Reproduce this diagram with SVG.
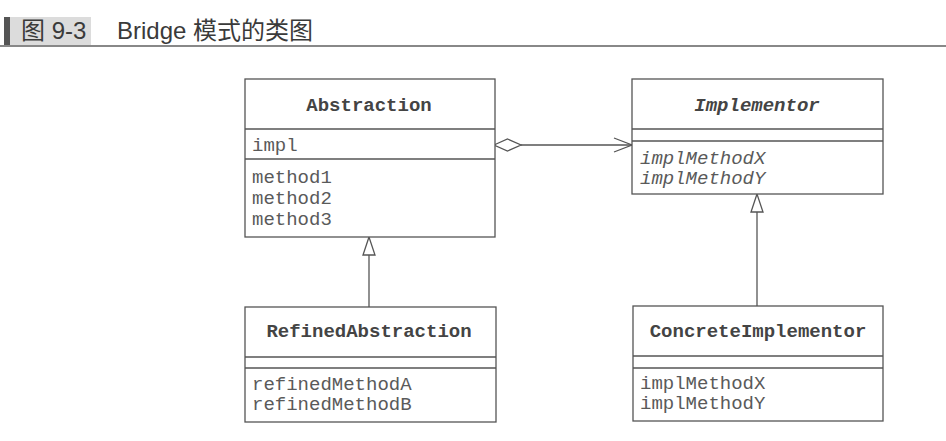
<svg xmlns="http://www.w3.org/2000/svg" width="946" height="441" viewBox="0 0 946 441">
<style>
.box{fill:#fff;stroke:#555;stroke-width:1.3}
.div{stroke:#555;stroke-width:1.3}
.name{font-family:"Liberation Mono","Courier New",monospace;font-weight:bold;font-size:19px;fill:#444;text-anchor:middle}
.mem{font-family:"Liberation Mono","Courier New",monospace;font-size:19px;fill:#5a5a5a}
.it{font-style:italic}
.conn{stroke:#555;stroke-width:1.3;fill:none}
.head{font-family:"Liberation Sans","Noto Sans CJK SC",sans-serif;font-size:24px;fill:#3a3a3a}
</style>
<rect width="946" height="441" fill="#fff"/>
<g id="header">
<rect x="4" y="17" width="6" height="29" fill="#555"/>
<rect x="10" y="17" width="81" height="29" fill="#dcdcdc"/>
<line x1="0" y1="46" x2="946" y2="46" stroke="#888" stroke-width="2"/>
<text class="head" x="21" y="39">图 9-3</text>
<text class="head" x="117" y="39">Bridge 模式的类图</text>
</g>
<g id="connectors">
<polygon class="conn" points="494,145 507.5,139 521,145 507.5,151" fill="#fff"/>
<line class="conn" x1="521" y1="145" x2="632" y2="145"/>
<polyline class="conn" points="614,138 632,145 614,152"/>
<polygon class="conn" points="369,237 363,255 375,255"/>
<line class="conn" x1="369" y1="255" x2="369" y2="307"/>
<polygon class="conn" points="757,194 751,212 763,212"/>
<line class="conn" x1="757" y1="212" x2="757" y2="306"/>
</g>
<g id="Abstraction">
<rect class="box" x="245" y="79" width="250" height="158"/>
<line class="div" x1="245" y1="129" x2="495" y2="129"/>
<line class="div" x1="245" y1="159" x2="495" y2="159"/>
<text class="name" x="369" y="111">Abstraction</text>
<text class="mem" x="252" y="151">impl</text>
<text class="mem" x="252" y="183">method1</text>
<text class="mem" x="252" y="204">method2</text>
<text class="mem" x="252" y="225">method3</text>
</g>
<g id="Implementor">
<rect class="box" x="632" y="79" width="251" height="115"/>
<line class="div" x1="632" y1="129" x2="883" y2="129"/>
<line class="div" x1="632" y1="141" x2="883" y2="141"/>
<text class="name it" x="757" y="111">Implementor</text>
<text class="mem it" x="640" y="164">implMethodX</text>
<text class="mem it" x="640" y="184">implMethodY</text>
</g>
<g id="RefinedAbstraction">
<rect class="box" x="245" y="307" width="251" height="115"/>
<line class="div" x1="245" y1="357" x2="496" y2="357"/>
<line class="div" x1="245" y1="368" x2="496" y2="368"/>
<text class="name" x="369" y="337">RefinedAbstraction</text>
<text class="mem" x="252" y="390">refinedMethodA</text>
<text class="mem" x="252" y="410">refinedMethodB</text>
</g>
<g id="ConcreteImplementor">
<rect class="box" x="633" y="306" width="250" height="115"/>
<line class="div" x1="633" y1="356" x2="883" y2="356"/>
<line class="div" x1="633" y1="368" x2="883" y2="368"/>
<text class="name" x="758" y="337">ConcreteImplementor</text>
<text class="mem" x="640" y="389">implMethodX</text>
<text class="mem" x="640" y="409">implMethodY</text>
</g>
</svg>
